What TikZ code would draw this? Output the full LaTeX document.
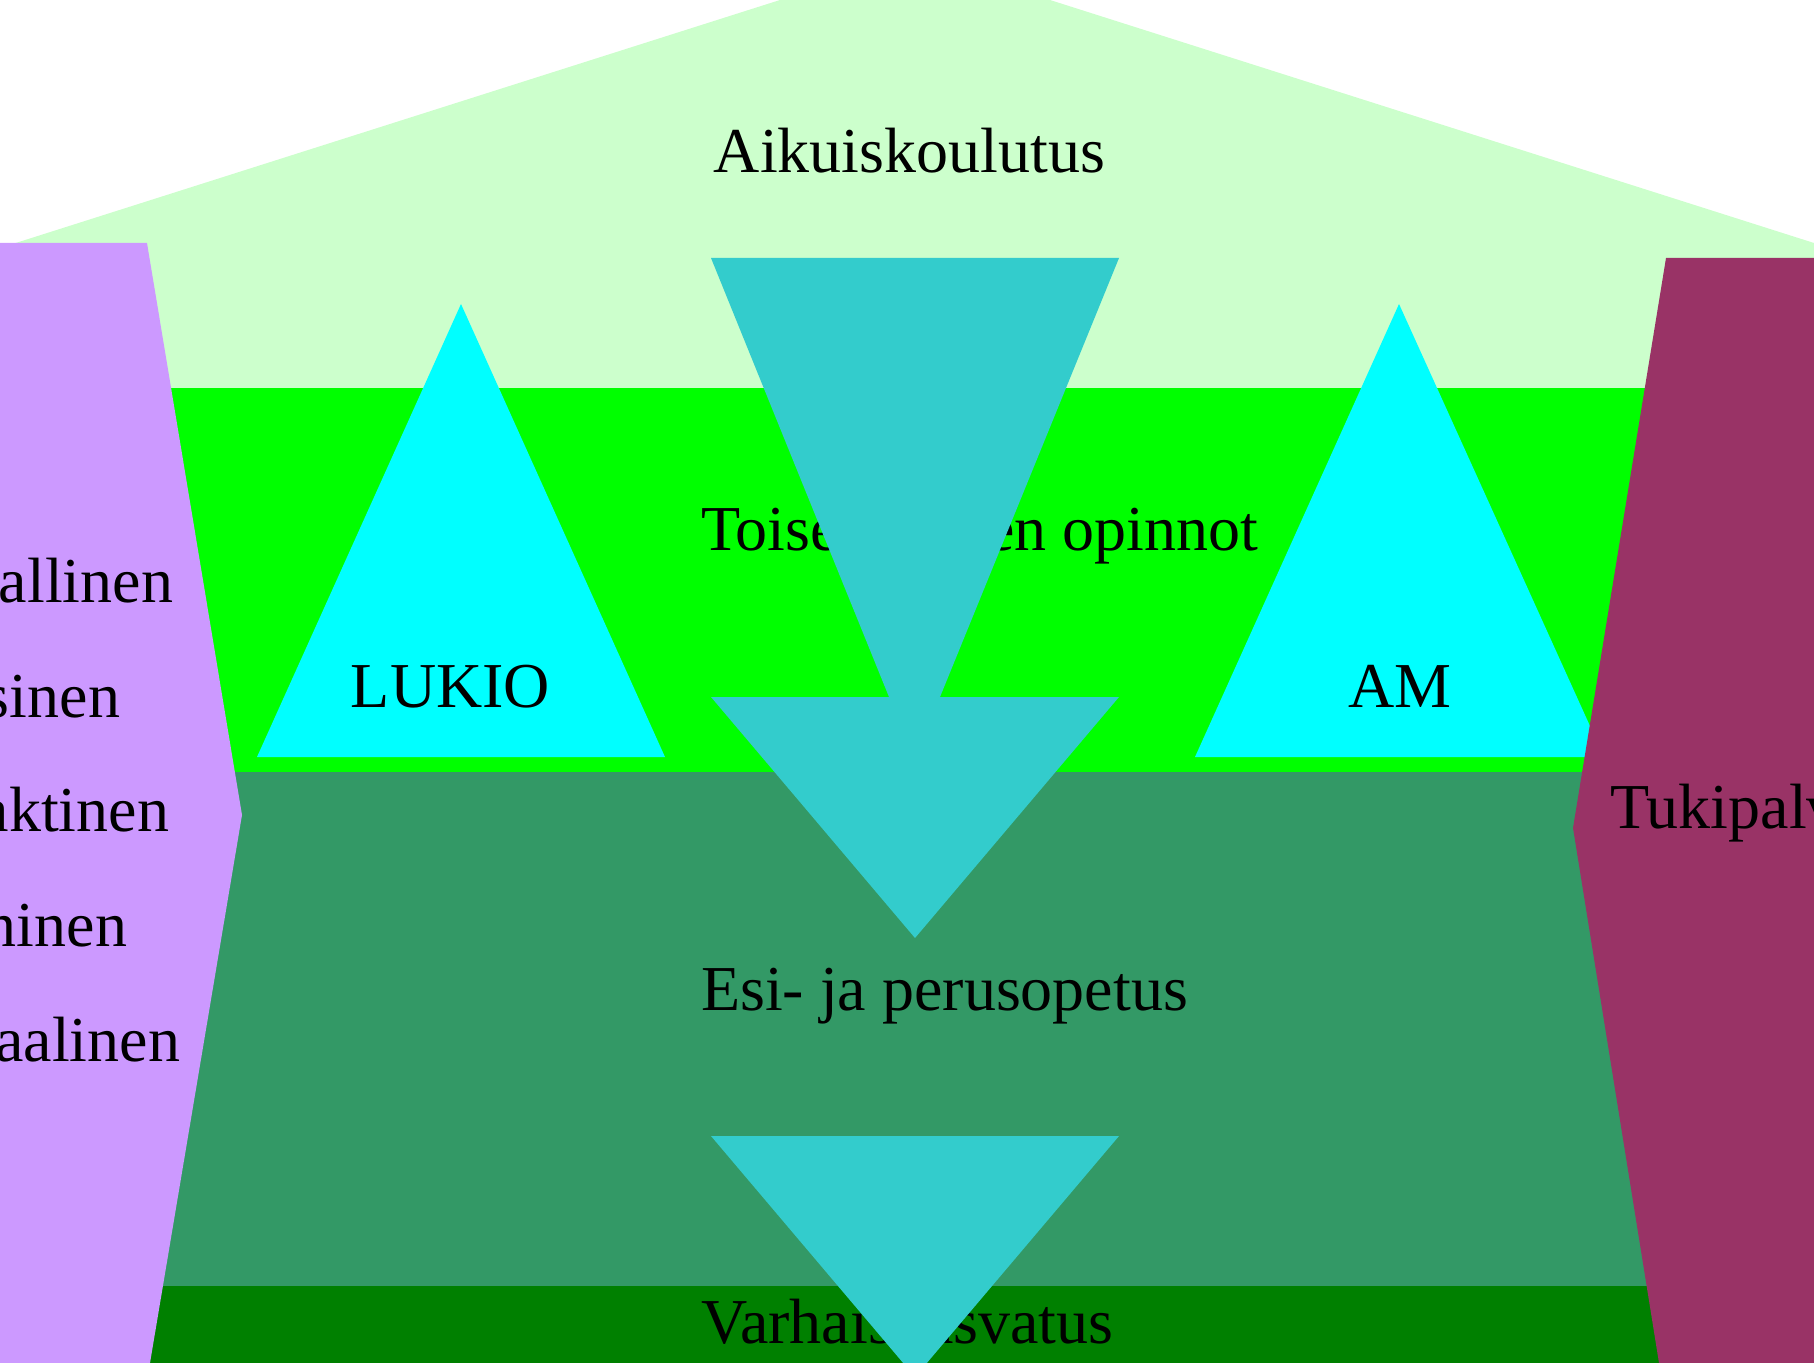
\documentclass[tikz,border=0pt]{standalone}
\usepackage{fontspec}
\setmainfont{Liberation Serif}
\definecolor{roofc}{HTML}{CCFFCC}
\definecolor{bandtwo}{HTML}{00FF00}
\definecolor{bandthree}{HTML}{339966}
\definecolor{bandfour}{HTML}{008000}
\definecolor{tric}{HTML}{00FFFF}
\definecolor{arrowc}{HTML}{33CCCC}
\definecolor{leftc}{HTML}{CC99FF}
\definecolor{rightc}{HTML}{993366}
\begin{document}
\begin{tikzpicture}[x=0.5pt,y=-0.5pt,
  lbl/.style={inner sep=0pt, outer sep=0pt, font=\fontsize{32}{38}\selectfont, text=black}]
\useasboundingbox (0,0) rectangle (1814,1363);
\clip (0,0) rectangle (1814,1363);
% background layers
\fill[roofc] (0,248) -- (780,0) -- (1050,0) -- (1814,243) -- (1814,1363) -- (0,1363) -- cycle;
\fill[bandtwo] (0,388) rectangle (1814,772);
\fill[bandthree] (0,772) rectangle (1814,1286);
\fill[bandfour] (0,1286) rectangle (1814,1363);
% level texts
\node[lbl, anchor=base] (aik) at (909.5,173) {Aikuiskoulutus};
\node[lbl, anchor=base west] (toi) at (701,551) {Toisen asteen opinnot};
\node[lbl, anchor=base west] (esi) at (701,1010) {Esi- ja perusopetus};
\node[lbl, anchor=base west] (var) at (701,1343) {Varhaiskasvatus};
% triangles
\fill[tric] (461,304) -- (665,757) -- (257,757) -- cycle;
\fill[tric] (1399,304) -- (1604,757) -- (1195,757) -- cycle;
\node[lbl, anchor=base] (lukio) at (450.5,707) {LUKIO};
\node[lbl, anchor=base] (am) at (1400,707) {AM};
% arrow and lower triangle
\fill[arrowc] (711,258) -- (1119,258) -- (940,697) -- (1119,697) -- (915,938) -- (711,697) -- (889,697) -- cycle;
\fill[arrowc] (711,1136) -- (1119,1136) -- (915,1377) -- cycle;
% side shapes
\fill[leftc] (-5,243) -- (147,243) -- (242,815) -- (150,1363) -- (-5,1370) -- cycle;
\fill[rightc] (1666,258) -- (1820,258) -- (1820,1370) -- (1659,1363) -- (1573,828) -- cycle;
% side texts
\node[lbl, anchor=base east] (l1) at (173,602) {allinen};
\node[lbl, anchor=base east] (l2) at (120,717) {sinen};
\node[lbl, anchor=base east] (l3) at (169,831) {aktinen};
\node[lbl, anchor=base east] (l4) at (127,946) {ninen};
\node[lbl, anchor=base east] (l5) at (180,1061) {aalinen};
\node[lbl, anchor=base west] (tuki) at (1610,828) {Tukipalv};
\end{tikzpicture}
\end{document}
